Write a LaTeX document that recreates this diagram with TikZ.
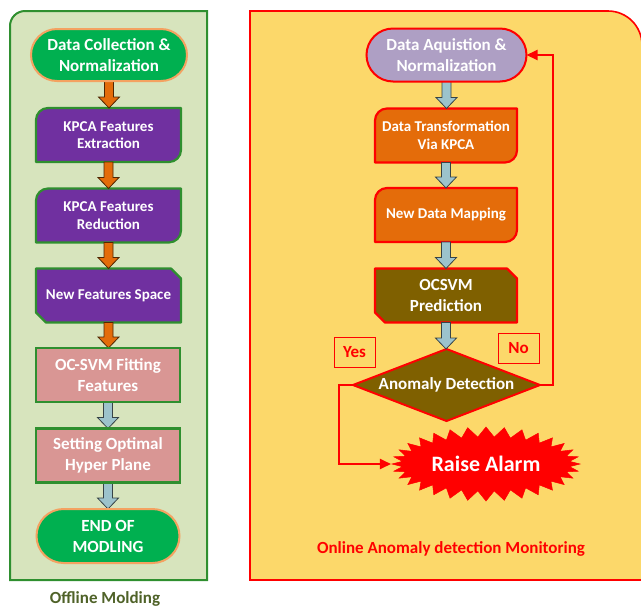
\documentclass[tikz,border=0pt]{standalone}
\usepackage{fontspec}
\setmainfont{Carlito}
\usetikzlibrary{shapes.misc,shapes.symbols,arrows.meta,calc}

\definecolor{leftfill}{HTML}{D7E4BD}
\definecolor{leftedge}{HTML}{2F8F2F}
\definecolor{termgreen}{HTML}{00B050}
\definecolor{termedge}{HTML}{F4A261}
\definecolor{purp}{HTML}{7030A0}
\definecolor{pinkbox}{HTML}{D99694}
\definecolor{orng}{HTML}{E46C0A}
\definecolor{bluearr}{HTML}{9CC3CC}
\definecolor{rightfill}{HTML}{FCD86A}
\definecolor{lav}{HTML}{AE9FC4}
\definecolor{brownbox}{HTML}{7F6000}
\definecolor{olive}{HTML}{4F6228}

\newcommand\sizeS{\fontsize{15}{17.5}\selectfont\bfseries}
\newcommand\sizeM{\fontsize{17}{21}\selectfont\bfseries}
\newcommand\sizeL{\fontsize{22}{26}\selectfont\bfseries}

\pgfdeclarelayer{panel}
\pgfdeclarelayer{shapes}
\pgfsetlayers{panel,shapes,main}

% box with rounded top-left and bottom-right corners
\newcommand\tlbrbox[3]{%
  \begin{pgfonlayer}{shapes}
  \filldraw[fill=#2, draw=#3, line width=2.2pt, line join=round]
    (#1.south west) -- ([yshift=-12pt]#1.north west)
    arc[start angle=180, end angle=90, radius=12pt]
    -- (#1.north east) -- ([yshift=12pt]#1.south east)
    arc[start angle=0, end angle=-90, radius=12pt] -- cycle;
  \end{pgfonlayer}}

% box with snipped top-right and bottom-left corners
\newcommand\snipbox[3]{%
  \begin{pgfonlayer}{shapes}
  \filldraw[fill=#2, draw=#3, line width=2.2pt, line join=round]
    (#1.north west) -- ([xshift=-10pt]#1.north east)
    -- ([yshift=-10pt]#1.north east) -- (#1.south east)
    -- ([xshift=10pt]#1.south west) -- ([yshift=10pt]#1.south west) -- cycle;
  \end{pgfonlayer}}

% thick block arrow from the bottom of one node to the top of the next
\newcommand\blockarrow[3]{%
  \begin{pgfonlayer}{shapes}
  \filldraw[fill=#1, draw=#1!35!black, line width=0.8pt, line join=miter]
    let \p1=(#2.south), \p2=(#3.north) in
    (\x1-4.5pt,\y1) -- (\x1+4.5pt,\y1) -- (\x1+4.5pt,\y2+11pt)
    -- (\x1+10.5pt,\y2+11pt) -- (\x1,\y2) -- (\x1-10.5pt,\y2+11pt)
    -- (\x1-4.5pt,\y2+11pt) -- cycle;
  \end{pgfonlayer}}

\begin{document}
\begin{tikzpicture}[x=1pt, y=-1pt,
  txt/.style={text=white, align=center, inner sep=0pt, outer sep=0pt},
  term/.style={txt, rounded rectangle, line width=2pt, font=\sizeM},
  plain/.style={txt, rectangle},
  redarrow/.style={draw=red, line width=2pt, -{Triangle[length=11pt, width=10pt]}},
  tag/.style={draw=red, line width=0.8pt, text=red, font=\sizeM, inner sep=0pt,
              minimum width=41pt, minimum height=30pt}]
\useasboundingbox (0,0) rectangle (641,606);

% panels
\begin{pgfonlayer}{panel}
  \filldraw[fill=leftfill, draw=leftedge, line width=2pt]
    (10,580) -- (10,26) arc[start angle=180, end angle=90, radius=15pt]
    -- (207,11) -- (207,580) -- cycle;
  \filldraw[fill=rightfill, draw=red, line width=1.6pt]
    (250,580) -- (250,11) -- (608,11) arc[start angle=90, end angle=0, radius=34pt]
    -- (642,580) -- cycle;
\end{pgfonlayer}

% offline modelling chain
\node[term, fill=termgreen, draw=termedge, minimum width=156pt, minimum height=52pt]
  (c1) at (109,55) {Data Collection \&\\Normalization};
\node[plain, font=\sizeS, minimum width=145pt, minimum height=54pt]
  (c2) at (108.5,135) {KPCA Features\\Extraction};
\node[plain, font=\sizeS, minimum width=145pt, minimum height=54pt]
  (c3) at (108.5,215.5) {KPCA Features\\Reduction};
\node[plain, font=\sizeS, minimum width=145pt, minimum height=54pt]
  (c4) at (108.5,295.5) {New Features Space};
\node[plain, font=\sizeM, fill=pinkbox, draw=leftedge, line width=2.2pt,
      minimum width=144pt, minimum height=54pt]
  (c5) at (108,375) {OC-SVM Fitting\\Features};
\node[plain, font=\sizeM, fill=pinkbox, draw=leftedge, line width=2.2pt,
      minimum width=144pt, minimum height=54pt]
  (c6) at (108,455.5) {Setting Optimal\\Hyper Plane};
\node[term, fill=termgreen, draw=termedge, minimum width=143pt, minimum height=54pt]
  (c7) at (108,536) {END OF\\MODLING};

\tlbrbox{c2}{purp}{leftedge}
\tlbrbox{c3}{purp}{leftedge}
\snipbox{c4}{purp}{leftedge}

\blockarrow{orng}{c1}{c2}
\blockarrow{orng}{c2}{c3}
\blockarrow{orng}{c3}{c4}
\blockarrow{orng}{c4}{c5}
\blockarrow{bluearr}{c5}{c6}
\blockarrow{bluearr}{c6}{c7}

\node[text=olive, font=\sizeM, anchor=base, inner sep=0pt] (offl) at (105,603) {Offline Molding};

% online monitoring chain
\node[term, fill=lav, draw=red, minimum width=160pt, minimum height=53pt]
  (acq) at (446.5,55) {Data Aquistion \&\\Normalization};
\node[plain, font=\sizeS, minimum width=142pt, minimum height=54pt]
  (trf) at (446,135.5) {Data Transformation\\Via KPCA};
\node[plain, font=\sizeS, minimum width=142pt, minimum height=54pt]
  (map) at (446,215) {New Data Mapping};
\node[plain, font=\sizeM, minimum width=142pt, minimum height=54pt]
  (pred) at (446,295.5) {OCSVM\\Prediction};
\node[plain, font=\sizeM, minimum width=187pt, minimum height=72pt]
  (det) at (446.5,385) {Anomaly Detection};
\node[starburst, starburst points=32, starburst point height=10pt, random starburst=0,
      fill=red, draw=red, line width=0.5pt, text=white, font=\sizeL, inner sep=0pt,
      minimum width=188pt, minimum height=74pt]
  (alarm) at (486,464) {Raise Alarm};

\tlbrbox{trf}{orng}{red}
\tlbrbox{map}{orng}{red}
\snipbox{pred}{brownbox}{red}
\begin{pgfonlayer}{shapes}
  \filldraw[fill=brownbox, draw=red, line width=2pt, line join=miter]
    (det.north) -- (det.east) -- (det.south) -- (det.west) -- cycle;
\end{pgfonlayer}

\blockarrow{bluearr}{acq}{trf}
\blockarrow{bluearr}{trf}{map}
\blockarrow{bluearr}{map}{pred}
\blockarrow{bluearr}{pred}{det}

\node[tag] (yes) at (354.5,352) {Yes};
\node[tag] (no) at (518.5,348.5) {No};

\coordinate (yk) at (339,385);
\coordinate (nk) at (553,385);
\draw[redarrow] (det.west) -- (yk) |- (alarm.west);
\draw[redarrow] (det.east) -- (nk) |- (acq.east);

\node[text=red, font=\sizeM, anchor=base, inner sep=0pt] (onl) at (451,553)
  {Online Anomaly detection Monitoring};
\end{tikzpicture}
\end{document}
